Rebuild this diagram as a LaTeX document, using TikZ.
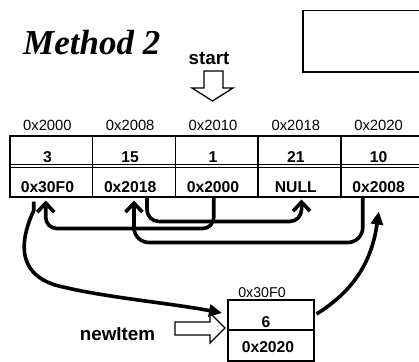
\documentclass[tikz,border=0pt]{standalone}
\usepackage{fontspec}
\setmainfont{Liberation Sans}
\newfontfamily\titlefont{Liberation Serif}
\usetikzlibrary{arrows.meta,calc}

\tikzset{
  frame/.style={draw, line width=1.5pt},
  cell/.style={frame, inner sep=0pt, minimum width=82.8pt, anchor=north west},
  valcell/.style={cell, minimum height=31.5pt},
  ptrcell/.style={cell, minimum height=29.5pt},
  addr/.style={anchor=base, inner sep=0pt, font=\fontsize{14.8}{16}\selectfont},
  bold/.style={anchor=base, inner sep=0pt, font=\fontsize{15.7}{17}\selectfont\bfseries},
  big/.style={anchor=base, inner sep=0pt, font=\fontsize{18.8}{20}\selectfont\bfseries},
  hollow/.style={draw, line width=1.3pt, fill=white, line join=miter},
  ptr/.style={line width=3.6pt, -{Straight Barb[length=9pt,width=17pt]}},
  solidptr/.style={line width=3.6pt, -{Triangle[length=13pt,width=12pt]}},
}

\begin{document}
\begin{tikzpicture}[x=1pt,y=-1pt]
\useasboundingbox (0,0) rectangle (419,361);
\clip (0,0) rectangle (419,361);

% title and the empty box
\node[anchor=base west, inner sep=0pt, font=\titlefont\fontsize{35}{38}\selectfont\bfseries\itshape] (title) at (23,54) {Method 2};
\node[frame, anchor=north west, inner sep=0pt, minimum width=123pt, minimum height=61pt] (blank) at (302,10) {};

% start pointer
\node[big] (startlbl) at (209,64) {start};
\draw[hollow] (204,71) -- (223,71) -- (223,88) -- (233,88) -- (212.5,101) -- (192,88) -- (204,88) -- cycle;

% array of five records
\foreach \i/\adr/\val/\nxt [evaluate=\i as \x using {9+82.8*(\i-1)}] in
  {1/0x2000/3/0x30F0, 2/0x2008/15/0x2018, 3/0x2010/1/0x2000, 4/0x2018/21/NULL, 5/0x2020/10/0x2008} {
  \node[valcell] (v\i) at (\x,135) {};
  \node[ptrcell] (p\i) at (\x,166.5) {};
  \node[addr] (a\i) at (\x+38.4,130) {\adr};
  \node[bold] (t\i) at (\x+38.4,162) {\val};
  \node[bold] (s\i) at (\x+38.4,192) {\nxt};
}
\draw[line width=1.5pt] (v1.south west) ++(0,-3.3) -- ([yshift=3.3pt]v5.south east);

% the new record
\node[frame, anchor=north west, inner sep=0pt, minimum width=86pt, minimum height=30pt] (nv) at (227,299) {};
\node[frame, anchor=north west, inner sep=0pt, minimum width=86pt, minimum height=31pt] (np) at (227,329) {};
\node[addr, font=\fontsize{14.2}{16}\selectfont] (na) at (262,297) {0x30F0};
\node[bold] (nt) at (266,327) {6};
\node[bold] (ns) at (268,352) {0x2020};

% newItem pointer
\node[big] (newlbl) at (117.5,340) {newItem};
\draw[hollow] (175,322) -- (210,322) -- (210,313) -- (225,328) -- (210,343) -- (210,335) -- (175,335) -- cycle;

% links between the records
\draw[ptr, rounded corners=11pt] ([xshift=-3pt]p3.south) -- ++(0,31) -| ([xshift=-5.4pt,yshift=-3pt]p1.south);
\draw[ptr, rounded corners=12pt] ([xshift=13pt]p2.south) -- ++(0,24) -| ([xshift=2pt,yshift=-2pt]p4.south);
\draw[ptr, rounded corners=15pt] ([xshift=-19.6pt]p5.south) -- ++(0,45) -| ([yshift=-3pt]p2.south);
\draw[solidptr] ([xshift=-17.4pt,yshift=-4pt]p1.south) -- ++(0,9)
  .. controls (21,238) and (15,272) .. (55,285)
  .. controls (100,297) and (170,303) .. ([xshift=-5pt,yshift=-14pt]nv.north west);
\draw[solidptr] ([xshift=2pt,yshift=-15pt]nv.north east)
  .. controls (355,290) and (372,260) .. ([xshift=-3.6pt,yshift=-14pt]p5.south);
\end{tikzpicture}
\end{document}
